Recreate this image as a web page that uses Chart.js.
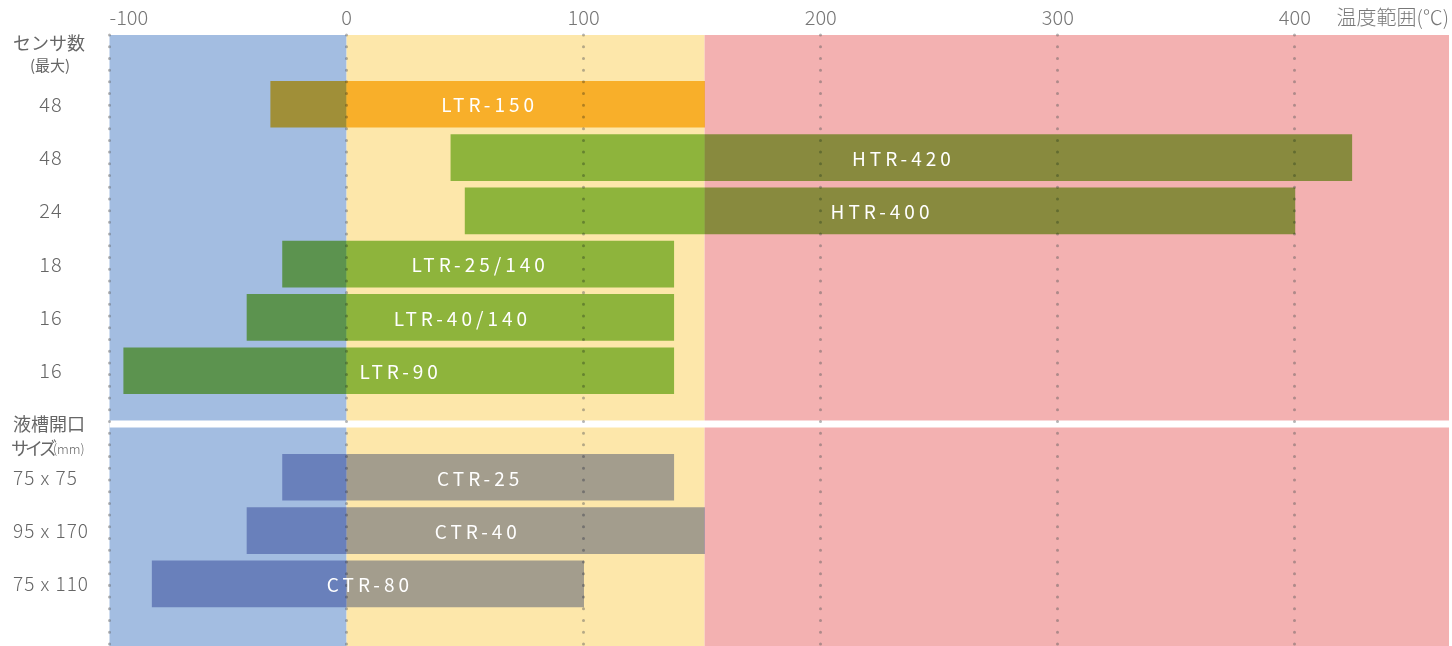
<!DOCTYPE html>
<html>
<head>
<meta charset="utf-8">
<script src="https://cdn.jsdelivr.net/npm/chart.js@4.4.1/dist/chart.umd.min.js"></script>
<style>
  html, body { margin: 0; padding: 0; background: #fff; }
  #wrap { width: 1452px; height: 646px; position: relative; }
</style>
</head>
<body>
<div id="wrap"><canvas id="tempChart"></canvas></div>
<script>
// data
const products = ['LTR-150', 'HTR-420', 'HTR-400', 'LTR-25/140', 'LTR-40/140', 'LTR-90', 'CTR-25', 'CTR-40', 'CTR-80'];
const rows = [1, 2, 3, 4, 5, 6, 8, 9, 10];
const lowTemps = [-32, 44, 50, -27, -42, -94, -27, -42, -82];
const highTemps = [151, 424, 400, 138, 138, 138, 138, 151, 100];
const sideLabels = ['48', '48', '24', '18', '16', '16', '75 x 75', '95 x 170', '75 x 110'];
const tickValues = [-100, 0, 100, 200, 300, 400];
const axisTitle = '温度範囲(℃)';
const zoneBounds = [-100, 0, 151, 465];
const headerTop = ['センサ数', '(最大)'];
const headerBottom = ['液槽開口', 'サイズ', '(mm)'];

const zoneColors = ['#A3BDE1', '#FDE7AA', '#F3B1B1'];
const barColors = ['#FAC13F', '#8FC759', '#8FC759', '#8FC759', '#8FC759', '#8FC759', '#A4ADD4', '#A4ADD4', '#A4ADD4'];
const FONT = '"Noto Sans CJK JP", "Noto Sans", sans-serif';
const X_MAX = zoneBounds[zoneBounds.length - 1];
const SEP_ROW = 7;

const backdrop = {
    id: 'backdrop',
    beforeDraw(chart) {
        const { ctx, chartArea: a, scales: { x, y } } = chart;
        ctx.save();
        for (let i = 0; i < zoneColors.length; i++) {
            const x0 = x.getPixelForValue(zoneBounds[i]);
            const x1 = x.getPixelForValue(zoneBounds[i + 1]);
            ctx.fillStyle = zoneColors[i];
            ctx.fillRect(x0, a.top, x1 - x0, a.bottom - a.top);
        }
        // white gap between the two groups
        const sy = y.getPixelForValue(SEP_ROW);
        ctx.fillStyle = '#fff';
        ctx.fillRect(a.left, sy - 3.5, a.right - a.left, 7);
        ctx.restore();
        ctx.lineCap = 'round';
    },
    beforeDatasetsDraw(chart) {
        chart.ctx.save();
        chart.ctx.globalCompositeOperation = 'multiply';
    },
    afterDatasetsDraw(chart) {
        const ctx = chart.ctx;
        ctx.restore();
        ctx.save();
        ctx.fillStyle = '#fff';
        ctx.font = '400 19px ' + FONT;
        ctx.letterSpacing = '4px';
        ctx.textAlign = 'center';
        ctx.textBaseline = 'middle';
        chart.getDatasetMeta(0).data.forEach((bar, i) => {
            ctx.fillText(products[i], (bar.x + bar.base) / 2 + 2, bar.y + 1);
        });
        ctx.restore();
    },
    afterDraw(chart) {
        const { ctx, scales: { y } } = chart;
        ctx.save();
        ctx.fillStyle = '#666';
        ctx.textBaseline = 'middle';

        const top0 = y.getPixelForValue(0);
        ctx.textAlign = 'left';
        ctx.font = '400 18px ' + FONT;
        ctx.fillText(headerTop[0], 13, top0 - 8);
        ctx.textAlign = 'center';
        ctx.font = '400 15px ' + FONT;
        ctx.fillText(headerTop[1], 50, top0 + 14);

        const sep = y.getPixelForValue(SEP_ROW);
        ctx.textAlign = 'left';
        ctx.font = '400 18px ' + FONT;
        ctx.fillText(headerBottom[0], 13, sep);
        ctx.letterSpacing = '-4px';
        ctx.fillText(headerBottom[1], 11, sep + 24);
        ctx.letterSpacing = '0px';
        ctx.font = '300 13px ' + FONT;
        ctx.fillText(headerBottom[2], 53, sep + 25);

        ctx.letterSpacing = '1px';
        rows.forEach((r, i) => {
            const py = y.getPixelForValue(r);
            if (r < SEP_ROW) {
                ctx.font = '300 20px ' + FONT;
                ctx.textAlign = 'center';
                ctx.fillText(sideLabels[i], 51, py);
            } else {
                ctx.font = '300 19px ' + FONT;
                ctx.textAlign = 'left';
                ctx.fillText(sideLabels[i], 13, py);
            }
        });
        ctx.restore();
    }
};

new Chart(document.getElementById('tempChart'), {
    type: 'bar',
    data: {
        datasets: [{
            data: rows.map((r, i) => ({ x: [lowTemps[i], highTemps[i]], y: r })),
            backgroundColor: barColors,
            borderWidth: 0,
            barThickness: 46
        }]
    },
    options: {
        indexAxis: 'y',
        responsive: true,
        maintainAspectRatio: false,
        animation: false,
        layout: { padding: { left: 109.5, right: 3, top: 0, bottom: 0 } },
        plugins: { legend: { display: false }, tooltip: { enabled: false } },
        scales: {
            x: {
                type: 'linear',
                position: 'top',
                min: -100,
                max: X_MAX,
                z: 1,
                afterBuildTicks: (s) => {
                    s.ticks = tickValues.concat([X_MAX]).map(v => ({ value: v }));
                },
                afterFit: (s) => { s.height = 35; },
                grid: {
                    drawTicks: false,
                    lineWidth: 3,
                    color: (c) => (c.tick && c.tick.value === X_MAX) ? 'rgba(0,0,0,0)' : 'rgba(90,90,90,0.45)'
                },
                border: { display: false, dash: [0.01, 11.7] },
                ticks: {
                    align: 'inner',
                    autoSkip: false,
                    maxRotation: 0,
                    padding: 0,
                    color: '#777',
                    font: { family: FONT, size: 20, weight: '300', lineHeight: 1.8 },
                    callback: (v) => v === X_MAX ? axisTitle : String(v)
                }
            },
            y: {
                type: 'linear',
                reverse: true,
                offset: false,
                min: -0.3,
                max: 11.166,
                display: false
            }
        }
    },
    plugins: [backdrop]
});
</script>
</body>
</html>
